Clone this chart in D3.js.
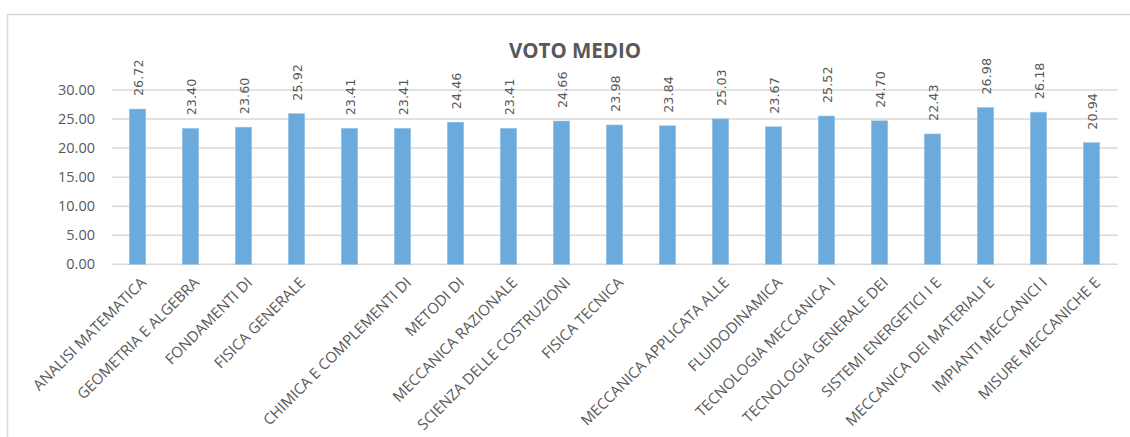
<!DOCTYPE html>
<html>
<head>
<meta charset="utf-8">
<script src="https://cdn.jsdelivr.net/npm/d3@7"></script>
<style>
  html, body { margin: 0; padding: 0; background: #fff; }
  svg { display: block; }
</style>
</head>
<body>
<svg id="chart" width="1130" height="437"></svg>
<script>
// Course names (first line of each axis label; two are blank) and average grade
const categories = [
  "ANALISI MATEMATICA",
  "GEOMETRIA E ALGEBRA",
  "FONDAMENTI DI",
  "FISICA GENERALE",
  "",
  "CHIMICA E COMPLEMENTI DI",
  "METODI DI",
  "MECCANICA RAZIONALE",
  "SCIENZA DELLE COSTRUZIONI",
  "FISICA TECNICA",
  "",
  "MECCANICA APPLICATA ALLE",
  "FLUIDODINAMICA",
  "TECNOLOGIA MECCANICA I",
  "TECNOLOGIA GENERALE DEI",
  "SISTEMI ENERGETICI I E",
  "MECCANICA DEI MATERIALI E",
  "IMPIANTI MECCANICI I",
  "MISURE MECCANICHE E"
];
const votoMedio = [26.72, 23.40, 23.60, 25.92, 23.41, 23.41, 24.46, 23.41, 24.66, 23.98, 23.84, 25.03, 23.67, 25.52, 24.70, 22.43, 26.98, 26.18, 20.94];
const yTicks = [0, 5, 10, 15, 20, 25, 30];
const chartTitle = "VOTO MEDIO";

const svg = d3.select("#chart");
const textColor = "#595959";
const gridColor = "#d9d9d9";
const barColor = "#6aaadc";

// outer chart frame
svg.append("rect")
  .attr("x", 7.5).attr("y", 14.5)
  .attr("width", 1140).attr("height", 440)
  .attr("fill", "none").attr("stroke", gridColor).attr("stroke-width", 1.5);

const idx = d3.range(votoMedio.length);
const x = d3.scaleBand().domain(idx).range([111, 1118]).paddingInner(0.69).paddingOuter(0.345);
const y = d3.scaleLinear().domain([0, 30]).range([264.3, 90]);

// horizontal gridlines
svg.append("g").selectAll("line").data(yTicks).join("line")
  .attr("x1", 112).attr("x2", 1118)
  .attr("y1", d => y(d)).attr("y2", d => y(d))
  .attr("stroke", gridColor).attr("stroke-width", 1.5);

// y axis labels
const yAxis = d3.axisLeft(y).tickValues(yTicks).tickFormat(d3.format(".2f")).tickSize(0).tickPadding(0);
const gy = svg.append("g").attr("transform", "translate(95,0)").call(yAxis);
gy.select(".domain").remove();
gy.selectAll("text")
  .attr("fill", textColor)
  .style("font-family", "'Open Sans', sans-serif")
  .style("font-size", "14.5px");

// bars
svg.append("g").selectAll("rect").data(votoMedio).join("rect")
  .attr("x", (d, i) => x(i))
  .attr("width", x.bandwidth())
  .attr("y", d => y(d))
  .attr("height", d => y(0) - y(d))
  .attr("fill", barColor)
  .attr("stroke", "#9cc6e8").attr("stroke-width", 0.6);

// value labels, rotated, above each bar
svg.append("g").selectAll("text").data(votoMedio).join("text")
  .attr("transform", (d, i) => `translate(${x(i) + x.bandwidth() / 2 + 1},${y(d) - 13}) rotate(-90)`)
  .attr("dy", "0.35em")
  .attr("text-anchor", "start")
  .attr("fill", textColor)
  .style("font-family", "'DejaVu Sans', sans-serif")
  .style("font-size", "12.8px")
  .text(d => d3.format(".2f")(d));

// category labels at -45 degrees
svg.append("g").selectAll("text").data(categories).join("text")
  .attr("transform", (d, i) => `translate(${x(i) + x.bandwidth() / 2 + 2},${276}) rotate(-45)`)
  .attr("dy", "0.72em")
  .attr("text-anchor", "end")
  .attr("fill", textColor)
  .style("font-family", "'Open Sans', sans-serif")
  .style("font-size", "15px")
  .text(d => d);

// title
svg.append("text")
  .attr("x", 575).attr("y", 57.5)
  .attr("text-anchor", "middle")
  .attr("fill", textColor)
  .style("font-family", "'Open Sans', sans-serif")
  .style("font-weight", "bold")
  .style("font-size", "20.5px")
  .text(chartTitle);
</script>
</body>
</html>
